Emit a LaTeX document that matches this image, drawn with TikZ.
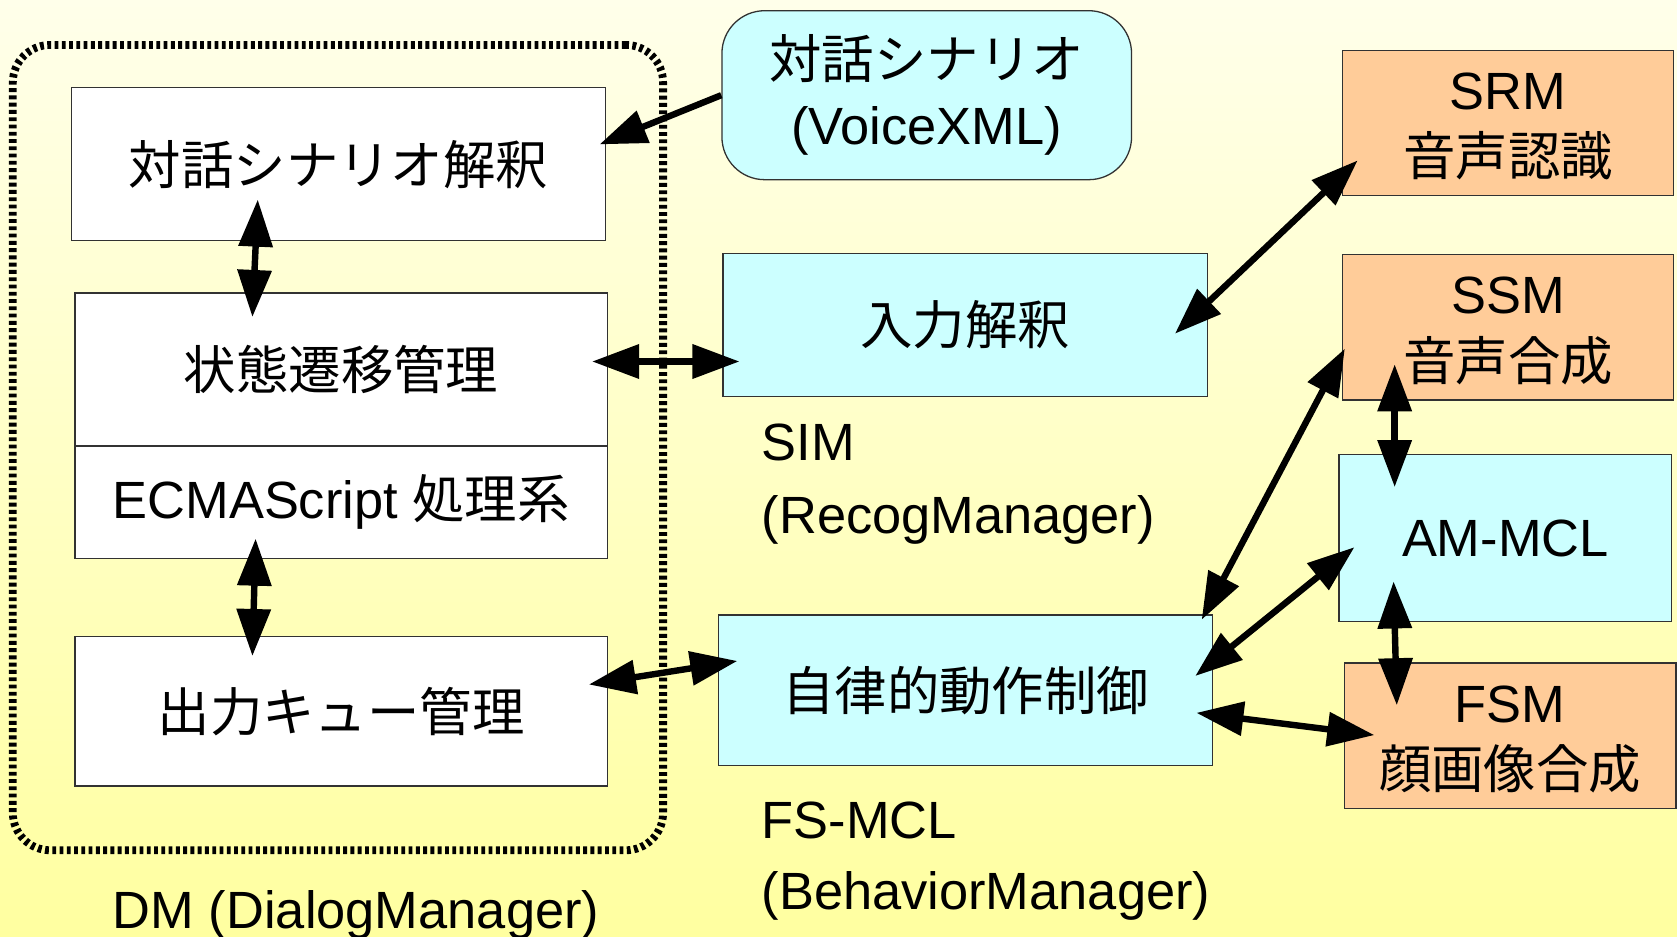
\documentclass[tikz,border=0pt]{standalone}
\usepackage{fontspec}
\setmainfont{Liberation Sans}
\newfontfamily\jp{Noto Sans CJK JP}
\usetikzlibrary{arrows.meta}
\definecolor{bgtop}{RGB}{255,255,234}
\definecolor{bgbot}{RGB}{255,255,160}
\definecolor{cyanfill}{RGB}{204,255,255}
\definecolor{orangefill}{RGB}{255,204,153}
\definecolor{edge}{RGB}{50,50,50}
% two centred lines, set a little below the middle of their box
\newcommand\twolines[2]{\raisebox{0pt}[\dimexpr\height+12pt\relax][\depth]{\begin{tabular}{@{}c@{}}#1\\#2\end{tabular}}}
\tikzset{
  box/.style={draw=edge, line width=1.2pt, inner sep=0pt, align=center,
    font=\fontsize{49}{62}\selectfont},
  whitebox/.style={box, fill=white},
  cyanbox/.style={box, fill=cyanfill},
  orangebox/.style={box, fill=orangefill},
  lbl/.style={inner sep=0pt, anchor=base west, font=\fontsize{49}{62}\selectfont},
  tip/.tip={Triangle[length=44pt,width=31pt]},
  link/.style={line width=6pt, tip-tip},
  onelink/.style={line width=6pt, -tip},
  dmframe/.style={draw=black, line width=7.3pt, dash pattern=on 3.6pt off 3.2pt,
    rounded corners=35pt, inner sep=0pt},
}
\begin{document}
\begin{tikzpicture}[x=1pt,y=-1pt]
% background
\useasboundingbox (0,0) rectangle (1568,876);
\shade[top color=bgtop, bottom color=bgbot] (0,0) rectangle (1568,876);

% dialog manager group
\node[dmframe, minimum width=608pt, minimum height=753pt] (dm) at (316,418.5) {};
\node[whitebox, minimum width=499pt, minimum height=143pt] (scen) at (316.5,153.5) {\jp 対話シナリオ解釈};
\node[whitebox, minimum width=498pt, minimum height=143pt] (stm) at (319,345.5) {\jp 状態遷移管理};
\node[whitebox, minimum width=498pt, minimum height=105pt] (ecma) at (319,469.5) {ECMAScript {\jp 処理系}};
\node[whitebox, minimum width=498pt, minimum height=140pt] (outq) at (319,665) {\jp 出力キュー管理};
\node[lbl, anchor=base] (dmname) at (333,868) {DM (DialogManager)};

% scenario, input and behaviour modules
\node[cyanbox, rounded corners=40pt, minimum width=383pt, minimum height=158pt] (voice) at (866.5,89) {{\jp 対話シナリオ}\\(VoiceXML)};
\node[cyanbox, minimum width=453pt, minimum height=134pt] (sim) at (902.5,304) {\jp 入力解釈};
\node[lbl] (simname) at (712,431) {SIM};
\node[lbl] (simmgr) at (712,499) {(RecogManager)};
\node[cyanbox, minimum width=462pt, minimum height=141pt] (fsmcl) at (903,645.5) {\jp 自律的動作制御};
\node[lbl] (fsname) at (712,784) {FS-MCL};
\node[lbl] (fsmgr) at (712,850) {(BehaviorManager)};

% device modules
\node[orangebox, minimum width=310pt, minimum height=134pt] (srm) at (1410,115) {\twolines{SRM}{\jp 音声認識}};
\node[orangebox, minimum width=310pt, minimum height=134pt] (ssm) at (1410,306) {\twolines{SSM}{\jp 音声合成}};
\node[cyanbox, minimum width=311pt, minimum height=156pt] (am) at (1407.5,503) {AM-MCL};
\node[orangebox, minimum width=310pt, minimum height=134pt] (fsm) at (1412,688) {\twolines{FSM}{\jp 顔画像合成}};

% connections
\draw[onelink] (voice.west) -- ([shift={(-6,-18.5)}]scen.east);
\draw[link] ([shift={(-75.5,-39)}]scen.south) -- ([shift={(-83,23)}]stm.north);
\draw[link] ([shift={(-80,-19)}]ecma.south) -- ([shift={(-83,19)}]outq.north);
\draw[link] ([shift={(-15,-7.5)}]stm.east) -- ([shift={(16,34)}]sim.west);
\draw[link] ([shift={(-18,-25)}]outq.east) -- ([shift={(18,-27.5)}]fsmcl.west);
\draw[link] ([shift={(-31,8)}]sim.east) -- ([shift={(15,35)}]srm.west);
\draw[link] ([shift={(-11,5)}]fsmcl.north east) -- ([shift={(3,20)}]ssm.west);
\draw[link] ([shift={(-106,-34)}]ssm.south) -- ([shift={(-103.5,31)}]am.north);
\draw[link] ([shift={(-17,-13.5)}]fsmcl.east) -- ([shift={(15,8.6)}]am.west);
\draw[link] ([shift={(-104.5,-38)}]am.south) -- ([shift={(-106,40)}]fsm.north);
\draw[link] ([shift={(-16,21)}]fsmcl.east) -- ([shift={(28.6,-0.7)}]fsm.west);
\end{tikzpicture}
\end{document}
